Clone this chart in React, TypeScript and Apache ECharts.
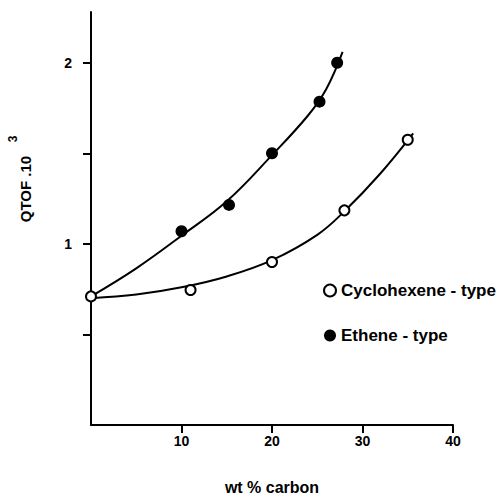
import React, { useEffect, useRef } from 'react';
import * as echarts from 'echarts';

const xTickValues = [10, 20, 30, 40];
const yTickValues = [0.5, 1, 1.5, 2];
const yLabelValues = [1, 2];

const cycloName = 'Cyclohexene - type';
const etheneName = 'Ethene - type';

const cycloX = [0, 11, 20, 28, 35];
const cycloY = [0.71, 0.745, 0.9, 1.185, 1.575];
const etheneX = [10, 15.25, 20, 25.25, 27.2];
const etheneY = [1.07, 1.215, 1.5, 1.785, 2.0];

const cycloCurveX = [0, 5, 10, 15, 20, 25, 28, 32, 35.6];
const cycloCurveY = [0.7, 0.72, 0.76, 0.82, 0.91, 1.05, 1.18, 1.39, 1.61];
const etheneCurveX = [0, 5, 10, 15, 20, 24, 26, 27.8];
const etheneCurveY = [0.71, 0.865, 1.045, 1.235, 1.49, 1.71, 1.855, 2.06];

const pairs = (xs: number[], ys: number[]) => xs.map((x, i) => [x, ys[i]]);

const FONT = '"Liberation Sans", Arial, Helvetica, sans-serif';

export default function App() {
  const ref = useRef<HTMLDivElement>(null);
  useEffect(() => {
    if (!ref.current) return;
    const chart = echarts.init(ref.current, null, { renderer: 'svg' });
    const axisCommon = {
      axisLine: { show: true, lineStyle: { color: '#000', width: 2 } },
      axisTick: { show: true, length: 8, lineStyle: { color: '#000', width: 2 } },
      splitLine: { show: false },
    };
    chart.setOption({
      animation: false,
      backgroundColor: '#fff',
      grid: { left: 91, right: 46, top: 12, bottom: 68, containLabel: false },
      xAxis: {
        type: 'value',
        min: 0,
        max: 40,
        interval: 10,
        ...axisCommon,
        axisTick: { ...axisCommon.axisTick, customValues: xTickValues },
        axisLabel: {
          customValues: xTickValues,
          color: '#000',
          fontSize: 14,
          fontWeight: 'bold',
          fontFamily: FONT,
          margin: 9,
        },
        name: 'wt % carbon',
        nameLocation: 'middle',
        nameGap: 54,
        nameTextStyle: { color: '#000', fontSize: 16, fontWeight: 'bold', fontFamily: FONT },
      },
      yAxis: {
        type: 'value',
        min: 0,
        max: 2.28,
        interval: 0.5,
        ...axisCommon,
        axisTick: { ...axisCommon.axisTick, customValues: yTickValues },
        axisLabel: {
          customValues: yLabelValues,
          formatter: (v: number) => (Number.isInteger(v) ? String(v) : ''),
          color: '#000',
          fontSize: 14,
          fontWeight: 'bold',
          fontFamily: FONT,
          margin: 19,
        },
      },
      legend: {
        data: [cycloName, etheneName],
        orient: 'vertical',
        left: 318,
        top: 277,
        itemWidth: 12,
        itemHeight: 12,
        itemGap: 28,
        icon: 'circle',
        textStyle: { color: '#000', fontSize: 17, fontWeight: 'bold', fontFamily: FONT },
      },
      graphic: [
        {
          type: 'text',
          x: 25,
          y: 189,
          rotation: Math.PI / 2,
          style: {
            text: 'QTOF .10',
            fill: '#000',
            fontSize: 15,
            fontWeight: 'bold',
            fontFamily: FONT,
            align: 'center',
            verticalAlign: 'middle',
          },
        },
        {
          type: 'text',
          x: 13,
          y: 139,
          rotation: Math.PI / 2,
          style: {
            text: '3',
            fill: '#000',
            fontSize: 12,
            fontWeight: 'bold',
            fontFamily: FONT,
            align: 'center',
            verticalAlign: 'middle',
          },
        },
      ],
      series: [
        {
          name: 'cycloCurve',
          type: 'line',
          data: pairs(cycloCurveX, cycloCurveY),
          smooth: 0.4,
          showSymbol: false,
          symbol: 'none',
          clip: false,
          lineStyle: { color: '#000', width: 2 },
          silent: true,
        },
        {
          name: 'etheneCurve',
          type: 'line',
          data: pairs(etheneCurveX, etheneCurveY),
          smooth: 0.4,
          showSymbol: false,
          symbol: 'none',
          clip: false,
          lineStyle: { color: '#000', width: 2 },
          silent: true,
        },
        {
          name: cycloName,
          type: 'scatter',
          data: pairs(cycloX, cycloY),
          symbol: 'circle',
          symbolSize: 10,
          clip: false,
          itemStyle: { color: '#fff', borderColor: '#000', borderWidth: 2, opacity: 1 },
          z: 3,
        },
        {
          name: etheneName,
          type: 'scatter',
          data: pairs(etheneX, etheneY),
          symbol: 'circle',
          symbolSize: 12,
          clip: false,
          itemStyle: { color: '#000', opacity: 1 },
          z: 3,
        },
      ],
    });
    return () => chart.dispose();
  }, []);
  return (
    <div
      ref={ref}
      style={{ position: 'fixed', left: 0, top: 0, width: 499, height: 500, background: '#fff' }}
    />
  );
}
